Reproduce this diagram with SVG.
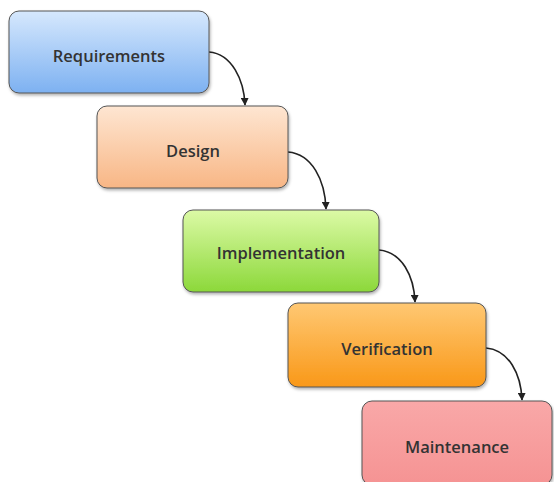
<svg xmlns="http://www.w3.org/2000/svg" width="554" height="482" viewBox="0 0 554 482">
<defs>
<linearGradient id="gB" x1="0" y1="0" x2="0" y2="1"><stop offset="0" stop-color="#d6e8fd"/><stop offset="1" stop-color="#7db1f1"/></linearGradient>
<linearGradient id="gD" x1="0" y1="0" x2="0" y2="1"><stop offset="0" stop-color="#fee6d2"/><stop offset="1" stop-color="#f8b685"/></linearGradient>
<linearGradient id="gI" x1="0" y1="0" x2="0" y2="1"><stop offset="0" stop-color="#dcfaa6"/><stop offset="1" stop-color="#8cd83a"/></linearGradient>
<linearGradient id="gV" x1="0" y1="0" x2="0" y2="1"><stop offset="0" stop-color="#ffc873"/><stop offset="1" stop-color="#f99818"/></linearGradient>
<linearGradient id="gM" x1="0" y1="0" x2="0" y2="1"><stop offset="0" stop-color="#f9a8a8"/><stop offset="1" stop-color="#f59393"/></linearGradient>
<filter id="sh" x="-10%" y="-10%" width="125%" height="130%"><feDropShadow dx="1" dy="2" stdDeviation="1.5" flood-color="#000" flood-opacity="0.3"/></filter>
<marker id="ah" viewBox="0 0 10 10" refX="9" refY="5" markerWidth="5" markerHeight="5" orient="auto"><path d="M0,0 L10,5 L0,10 z" fill="#222"/></marker>
</defs>
<style>
.box{stroke:#555;stroke-width:1;filter:url(#sh)}
.lbl{font-family:"Open Sans","Liberation Sans",sans-serif;font-size:16.5px;font-weight:600;fill:#333;text-anchor:middle;dominant-baseline:central}
.con{fill:none;stroke:#222;stroke-width:1.6;marker-end:url(#ah)}
</style>
<g id="connectors">
<path class="con" d="M209,52 C232,54 244,80 245,105"/>
<path class="con" d="M288,152 C312,154 325,180 326,209"/>
<path class="con" d="M379,250 C402,252 414,276 415,302"/>
<path class="con" d="M486,348 C509,350 521,374 522,400"/>
</g>
<g id="requirements"><rect class="box" x="9" y="11" width="200" height="82" rx="10" fill="url(#gB)"/><text class="lbl" x="109" y="55">Requirements</text></g>
<g id="design"><rect class="box" x="97" y="106" width="191" height="82" rx="10" fill="url(#gD)"/><text class="lbl" x="193" y="150">Design</text></g>
<g id="implementation"><rect class="box" x="183" y="210" width="196" height="82" rx="10" fill="url(#gI)"/><text class="lbl" x="281" y="252">Implementation</text></g>
<g id="verification"><rect class="box" x="288" y="303" width="198" height="84" rx="10" fill="url(#gV)"/><text class="lbl" x="387" y="348">Verification</text></g>
<g id="maintenance"><rect class="box" x="362" y="401" width="190" height="84" rx="10" fill="url(#gM)"/><text class="lbl" x="457" y="446">Maintenance</text></g>
</svg>
